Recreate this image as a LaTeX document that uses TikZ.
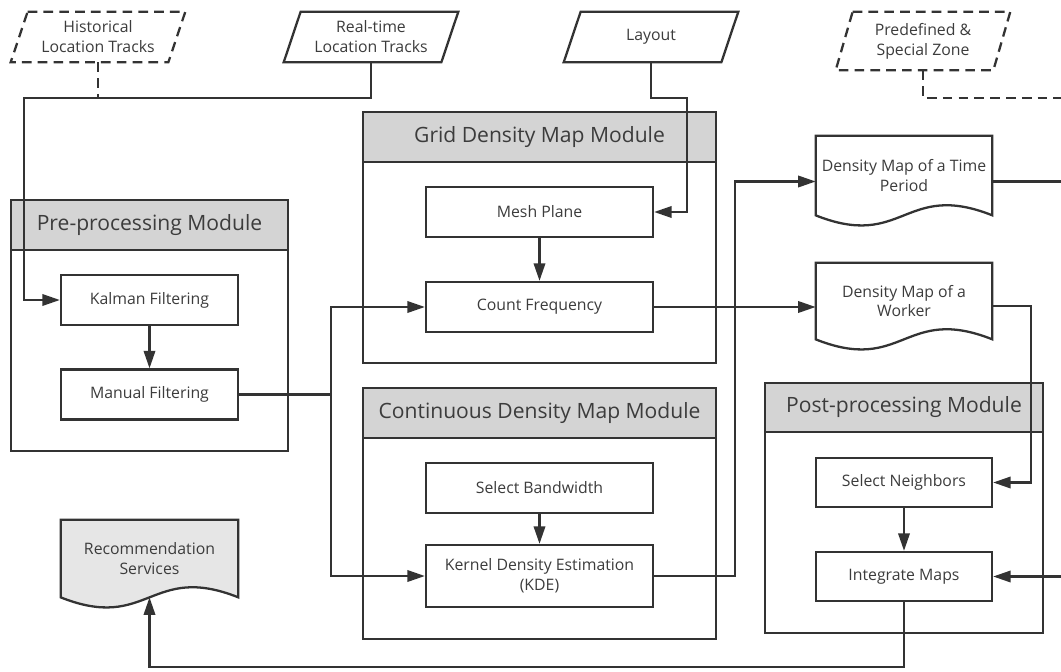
\documentclass[tikz,border=0pt]{standalone}
\usepackage{fontspec}
\setmainfont{Open Sans}
\usetikzlibrary{arrows.meta,calc}
\pgfdeclarelayer{bg}
\pgfsetlayers{bg,main}
\definecolor{ln}{HTML}{333333}
\definecolor{tx}{HTML}{3C3C3C}
\definecolor{hd}{HTML}{D4D4D4}
\definecolor{rsf}{HTML}{E6E6E6}
\newcommand\paral[2]{\draw[#1] ($(#2.north west)+(8.5,0)$) -- ($(#2.north east)+(8.5,0)$) -- ($(#2.south east)+(-8.5,0)$) -- ($(#2.south west)+(-8.5,0)$) -- cycle;}
\newcommand\docpath[2]{\begin{pgfonlayer}{bg}\draw[#1] (#2.south west) -- (#2.north west) -- (#2.north east) -- (#2.south east) .. controls +(-88,-35) and +(88,35) .. (#2.south west) -- cycle;\end{pgfonlayer}}
\begin{document}
\begin{tikzpicture}[x=0.02cm,y=-0.02cm,
  conn/.style={draw=ln, line width=1.3pt},
  arr/.style={conn, -{Triangle[length=10pt,width=6.5pt]}},
  dashline/.style={conn, dash pattern=on 5.5pt off 3.5pt},
  txt/.style={text=tx, font=\fontsize{9}{11.3}\selectfont, align=center, inner sep=0pt},
  box/.style={txt, draw=ln, line width=1.3pt, fill=white, minimum height=1cm},
  module/.style={draw=ln, line width=1.3pt, inner sep=0pt, minimum height=5.02cm},
  head/.style={draw=ln, line width=1.3pt, fill=hd, text=tx, font=\fontsize{12}{14}\selectfont, minimum height=1cm, inner sep=0pt},
  para/.style={txt, minimum width=3.14cm, minimum height=1cm},
  doc/.style={txt, minimum width=3.52cm}
]
\useasboundingbox (0,0) rectangle (1061,672);
\clip (0,0) rectangle (1061,672);
\begin{pgfonlayer}{bg}\fill[white] (0,0) rectangle (1061,672);\end{pgfonlayer}

% inputs
\node[para] (hist) at (98,37) {Historical\\Location Tracks};
\paral{dashline}{hist}
\node[para] (rt) at (371,37) {Real-time\\Location Tracks};
\paral{conn}{rt}
\node[para] (lay) at (651,37) {Layout};
\paral{conn}{lay}
\node[para, minimum height=1.16cm] (pz) at (923,41) {Predefined \&\\Special Zone};
\paral{dashline}{pz}

% modules
\node[module, minimum width=5.54cm] (pre) at (149.5,325.5) {};
\node[head, minimum width=5.54cm] (prehead) at (149.5,225) {Pre-processing Module};
\node[module, minimum width=7.06cm] (grid) at (539.5,237.5) {};
\node[head, minimum width=7.06cm] (gridhead) at (539.5,137) {Grid Density Map Module};
\node[module, minimum width=7.06cm] (cont) at (539.5,513.5) {};
\node[head, minimum width=7.06cm] (conthead) at (539.5,413) {Continuous Density Map Module};
\node[module, minimum width=5.56cm, minimum height=5cm] (post) at (904,508) {};
\node[head, minimum width=5.56cm, minimum height=0.98cm] (posthead) at (904,407.5) {Post-processing Module};

% inner boxes
\node[box, minimum width=3.54cm] (kal) at (149.5,300) {Kalman Filtering};
\node[box, minimum width=3.54cm] (man) at (149.5,394.5) {Manual Filtering};
\node[box, minimum width=4.54cm] (mp) at (539.5,212) {Mesh Plane};
\node[box, minimum width=4.54cm] (cf) at (539.5,307) {Count Frequency};
\node[box, minimum width=4.54cm] (sb) at (539.5,488) {Select Bandwidth};
\node[box, minimum width=4.54cm, minimum height=1.24cm] (kde) at (539.5,576) {Kernel Density Estimation\\(KDE)};
\node[box, minimum width=3.52cm, minimum height=0.98cm] (sn) at (904,482.5) {Select Neighbors};
\node[box, minimum width=3.52cm, minimum height=0.98cm] (im) at (904,576.5) {Integrate Maps};

% documents
\node[doc, minimum height=1.58cm] (dt) at (904,175.5) {Density Map of a Time\\Period};
\docpath{conn, fill=white}{dt}
\node[doc, minimum height=1.52cm] (dw) at (904,301) {Density Map of a\\Worker};
\docpath{conn, fill=white}{dw}
\node[doc, minimum width=3.54cm, minimum height=1.54cm] (rs) at (149.5,558.5) {Recommendation\\Services};
\docpath{conn, fill=rsf}{rs}

% connectors
\coordinate (hj) at (98,98);
\draw[dashline] (hist.south) -- (hj);
\draw[arr] (rt.south) |- (24,98) |- (kal.west);
\draw[arr] (kal.south) -- (man.north);
\coordinate (split) at (331,394.5);
\draw[conn] (man.east) -- (split);
\draw[arr] (split) |- (cf.west);
\draw[arr] (split) |- (kde.west);
\draw[arr] (lay.south) |- (687,98) |- (mp.east);
\coordinate (pzend) at (1061,98);
\draw[dashline] (pz.south) |- (pzend);
\draw[arr] (mp.south) -- (cf.north);
\draw[arr] (cf.east) -- (cf.east -| dw.west);
\draw[arr] (sb.south) -- (kde.north);
\draw[arr] (kde.east) -| ($(dt.west)+(-81,6)$) -- ($(dt.west)+(0,6)$);
\coordinate (dtend) at (1061,181.5);
\draw[conn] ($(dt.east)+(0,6)$) -- (dtend);
\draw[arr] ($(dw.east)+(0,5)$) -| ($(sn.east)+(38,0)$) -- (sn.east);
\draw[arr] (sn.south) -- (im.north);
\coordinate (imin) at (1061,576.5);
\draw[arr] (imin) -- (im.east);
\draw[arr] (im.south) -- (904,667) -| (rs.south);
\end{tikzpicture}
\end{document}
